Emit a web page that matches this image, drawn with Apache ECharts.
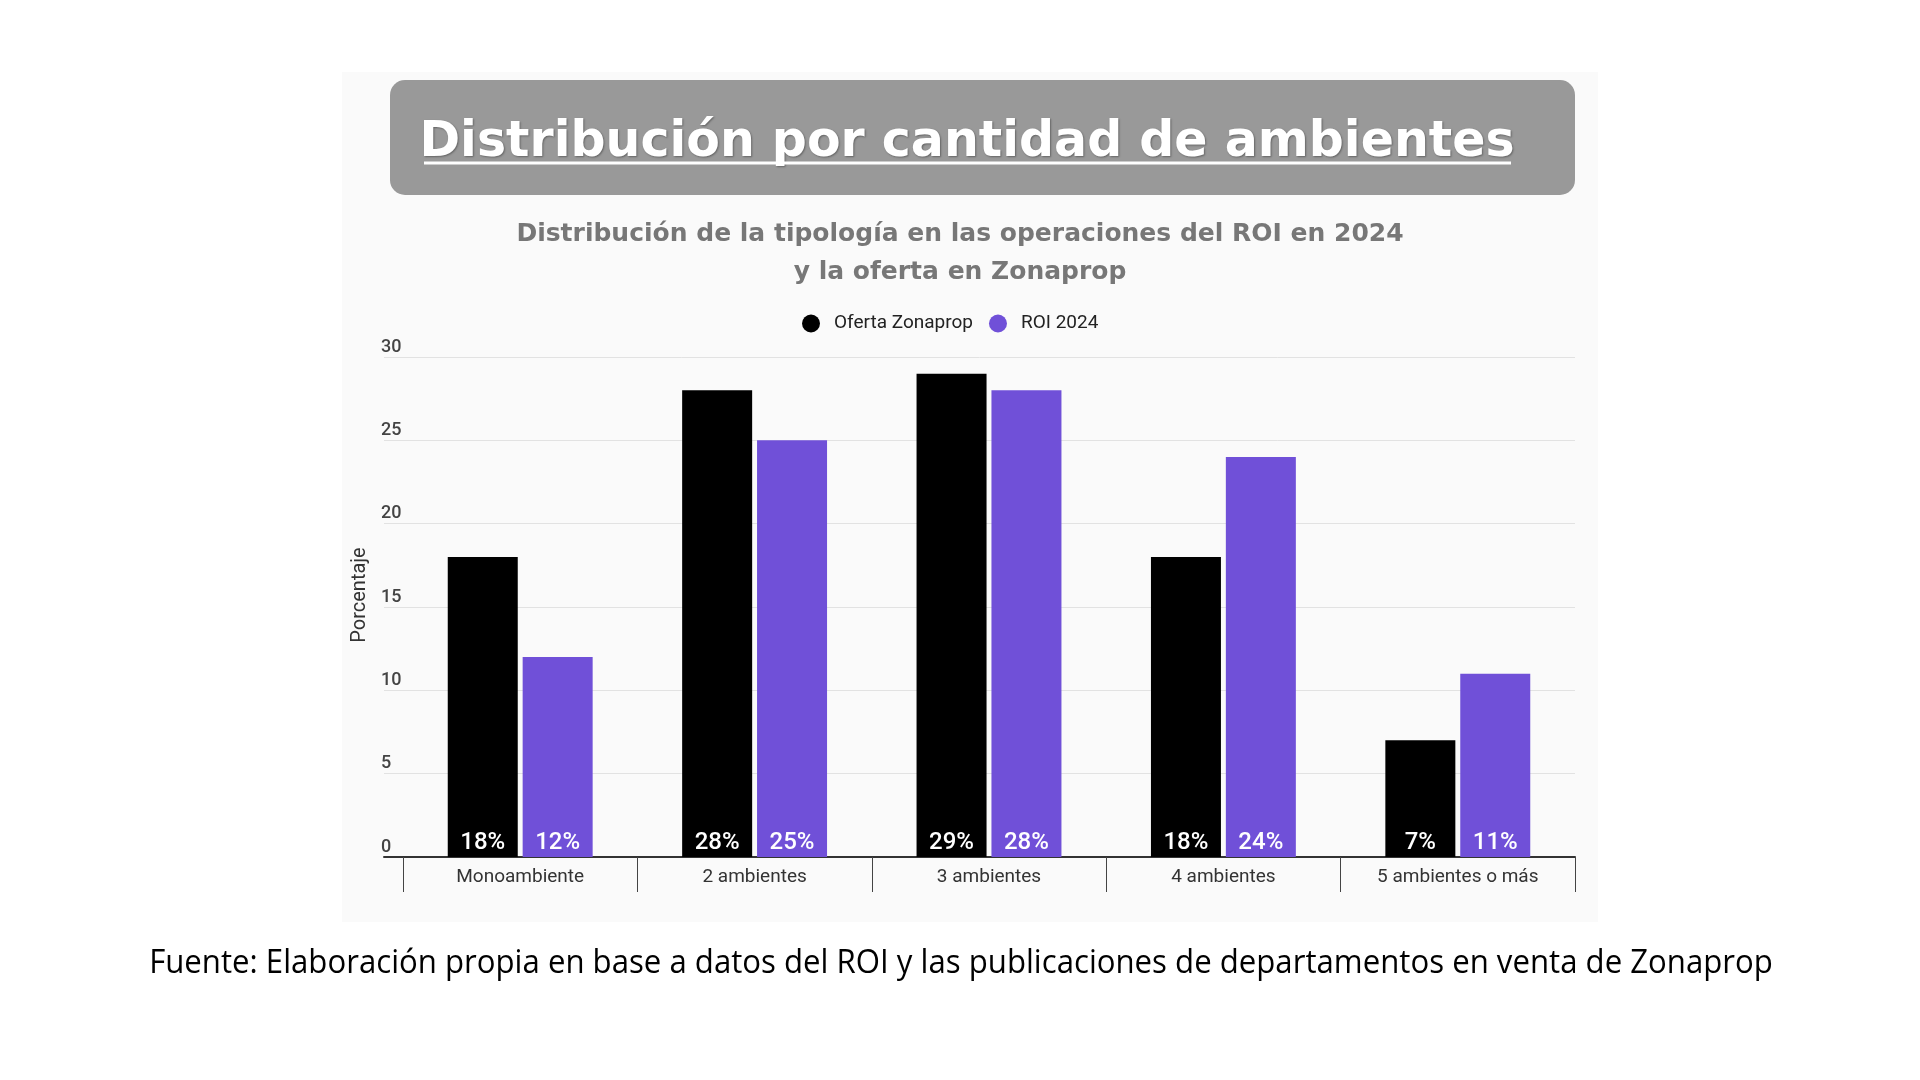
<!DOCTYPE html>
<html><head><meta charset="utf-8">
<script src="https://cdn.jsdelivr.net/npm/echarts@6/dist/echarts.min.js"></script>
<style>html,body{margin:0;padding:0;background:#fff}#c{width:1920px;height:1080px}</style>
</head><body><div id="c"></div>
<script>
const categories = ['Monoambiente', '2 ambientes', '3 ambientes', '4 ambientes', '5 ambientes o más'];
const ofertaZonaprop = [18, 28, 29, 18, 7];
const roi2024 = [12, 25, 28, 24, 11];
const seriesNames = ['Oferta Zonaprop', 'ROI 2024'];
const yMin = 0, yMax = 30, yStep = 5;
const headerText = 'Distribución por cantidad de ambientes';
const subtitleText = 'Distribución de la tipología en las operaciones del ROI en 2024\ny la oferta en Zonaprop';
const yName = 'Porcentaje';
const footerText = 'Fuente: Elaboración propia en base a datos del ROI y las publicaciones de departamentos en venta de Zonaprop';

const chart = echarts.init(document.getElementById('c'), null, {renderer: 'canvas'});
const purple = '#7050d8';
const barLabel = {
  show: true, position: 'insideBottom', distance: 2, formatter: '{c}%',
  color: '#fff', fontSize: 24, fontWeight: 500, fontFamily: 'Roboto'
};
chart.setOption({
  backgroundColor: '#ffffff',
  animation: false,
  title: {
    text: subtitleText, left: 'center', top: 210,
    textStyle: {fontFamily: 'DejaVu Sans', fontWeight: 'bold', fontSize: 25, color: '#777', lineHeight: 38}
  },
  legend: {
    data: seriesNames, left: 797, top: 309, icon: 'circle', itemWidth: 18, itemHeight: 18, itemGap: 16,
    textStyle: {fontFamily: 'Roboto', fontSize: 19, color: '#222', padding: [0, 0, 0, 9]}
  },
  grid: [
    {left: 384, right: 345, top: 357, bottom: 223},
    {left: 403, right: 345, top: 357, bottom: 223}
  ],
  xAxis: [
    {gridIndex: 0, type: 'category', data: categories, axisLine: {show: true, lineStyle: {color: '#333', width: 2}},
     axisTick: {show: false}, axisLabel: {show: false}},
    {gridIndex: 1, type: 'category', data: categories, axisLine: {show: false},
     axisTick: {show: true, length: 35, lineStyle: {color: '#444', width: 1}},
     axisLabel: {fontFamily: 'Roboto', fontSize: 19, color: '#333', margin: 11}}
  ],
  yAxis: [
    {gridIndex: 0, type: 'value', min: yMin, max: yMax, interval: yStep,
     name: yName, nameLocation: 'middle', nameGap: 10, nameRotate: 90,
     nameTextStyle: {fontFamily: 'Roboto', fontSize: 20, color: '#333', padding: [0, 0, 0, 24]},
     axisLine: {show: false}, axisTick: {show: false},
     splitLine: {show: true, lineStyle: {color: '#e2e2e2', width: 1}},
     axisLabel: {align: 'left', verticalAlign: 'bottom', margin: 3, padding: [0, 0, 1, 0],
                 fontFamily: 'Roboto', fontSize: 18, color: '#444', fontWeight: 500}},
    {gridIndex: 1, type: 'value', min: yMin, max: yMax, interval: yStep, show: false, splitLine: {show: false}}
  ],
  series: [
    {name: seriesNames[0], type: 'bar', xAxisIndex: 1, yAxisIndex: 1, data: ofertaZonaprop,
     barWidth: 70, barGap: '7%', itemStyle: {color: '#000'}, label: barLabel},
    {name: seriesNames[1], type: 'bar', xAxisIndex: 1, yAxisIndex: 1, data: roi2024,
     barWidth: 70, itemStyle: {color: purple}, label: barLabel}
  ],
  graphic: [
    {type: 'rect', z: -10, silent: true, shape: {x: 342, y: 72, width: 1256, height: 850}, style: {fill: '#fafafa'}},
    {type: 'rect', z: 5, shape: {x: 390, y: 80, width: 1185, height: 115, r: 15}, style: {fill: '#999999'}},
    {type: 'text', z: 6, x: 967, y: 143, style: {text: headerText, fill: '#fff', font: 'bold 49px "DejaVu Sans"',
      align: 'center', verticalAlign: 'middle', textShadowColor: 'rgba(0,0,0,0.35)', textShadowBlur: 2, textShadowOffsetX: 1, textShadowOffsetY: 1}},
    {type: 'line', z: 6, shape: {x1: 424, y1: 163, x2: 1511, y2: 163}, style: {stroke: '#fff', lineWidth: 3}},
    {type: 'text', z: 6, x: 961, y: 964, scaleX: 0.974, style: {text: footerText, fill: '#000', font: '32px "Open Sans"',
      align: 'center', verticalAlign: 'middle'}}
  ]
});
</script></body></html>
